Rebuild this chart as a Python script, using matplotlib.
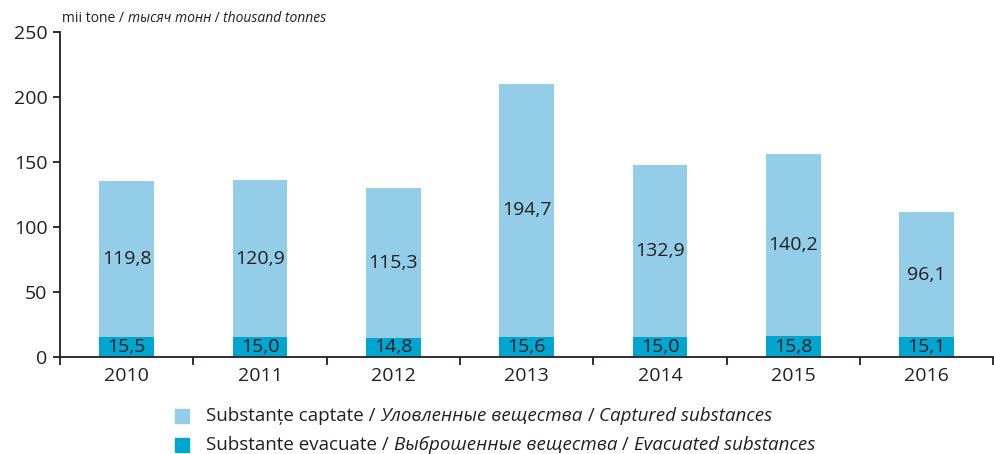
import matplotlib
matplotlib.use("Agg")
import matplotlib.pyplot as plt
from matplotlib.patches import Rectangle
import numpy as np

plt.rcParams['font.family'] = ['Open Sans', 'DejaVu Sans']

years = ["2010", "2011", "2012", "2013", "2014", "2015", "2016"]
evacuated = [15.5, 15.0, 14.8, 15.6, 15.0, 15.8, 15.1]
captured = [119.8, 120.9, 115.3, 194.7, 132.9, 140.2, 96.1]

c_light = "#93cde7"
c_dark = "#00a6cf"
ink = "#231f20"

fig = plt.figure(figsize=(9.95, 4.54), dpi=100)
ax = fig.add_axes([0.0603, 0.2137, 0.938, 0.7158])

x = np.arange(len(years))
w = 0.41
ax.bar(x, evacuated, w, color=c_dark)
ax.bar(x, captured, w, bottom=evacuated, color=c_light)

for i in range(len(years)):
    ax.text(x[i], evacuated[i] / 2, ("%.1f" % evacuated[i]).replace(".", ","),
            ha="center", va="center", fontsize=14, color=ink)
    ax.text(x[i], evacuated[i] + captured[i] / 2, ("%.1f" % captured[i]).replace(".", ","),
            ha="center", va="center", fontsize=14, color=ink)

ax.set_xlim(-0.5, len(years) - 0.5)
ax.set_ylim(0, 250)
ax.set_yticks(range(0, 251, 50))
ax.tick_params(axis="y", labelsize=14, length=5, width=1.3, colors=ink, pad=4)
ax.set_xticks(np.arange(-0.5, len(years), 1))
ax.set_xticklabels([])
ax.set_xticks(x, minor=True)
ax.set_xticklabels(years, minor=True)
ax.tick_params(axis="x", which="major", length=6, width=1.3, direction="out", colors=ink)
ax.tick_params(axis="x", which="minor", length=0, labelsize=14, pad=7, labelcolor=ink)
for s in ["top", "right"]:
    ax.spines[s].set_visible(False)
for s in ["left", "bottom"]:
    ax.spines[s].set_linewidth(1.3)
    ax.spines[s].set_color(ink)

renderer = fig.canvas.get_renderer()


def mixed_text(px, py, parts, size):
    # parts: list of (text, style); px, py in pixels
    for txt, style in parts:
        t = fig.text(px / 995, 1 - py / 454, txt, fontsize=size, style=style,
                     va="center", ha="left", color=ink)
        bb = t.get_window_extent(renderer=renderer)
        px += bb.width


mixed_text(62, 18, [("mii tone / ", "normal"), ("тысяч тонн", "italic"),
                    (" / ", "normal"), ("thousand tonnes", "italic")], 10)

legend_rows = [
    (c_light, [("Substanțe captate / ", "normal"), ("Уловленные вещества", "italic"),
               (" / ", "normal"), ("Captured substances", "italic")]),
    (c_dark, [("Substante evacuate / ", "normal"), ("Выброшенные вещества", "italic"),
              (" / ", "normal"), ("Evacuated substances", "italic")]),
]
for k, (col, parts) in enumerate(legend_rows):
    cy = 416 + k * 29
    fig.patches.append(Rectangle((175 / 995, 1 - (cy + 7) / 454), 14 / 995, 14 / 454,
                                 transform=fig.transFigure, color=col))
    mixed_text(206, cy, parts, 13.5)

fig.savefig("out.png", dpi=100)
